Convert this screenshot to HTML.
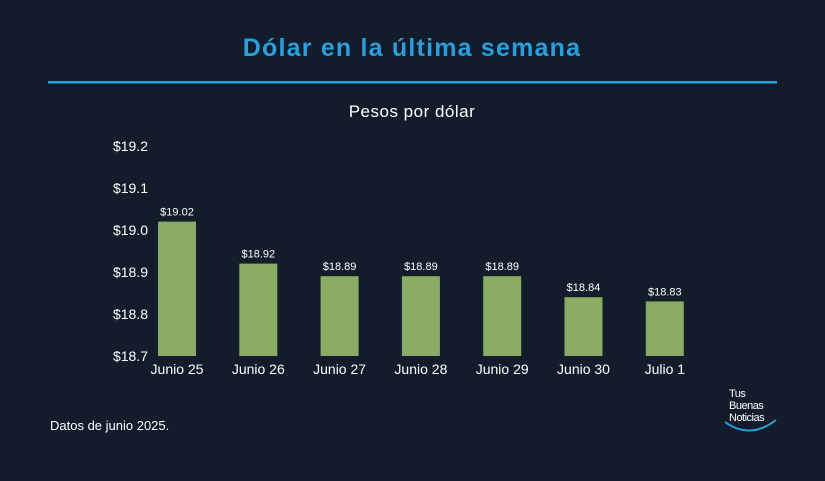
<!DOCTYPE html>
<html><head><meta charset="utf-8"><style>
body{margin:0;width:825px;height:481px;background:#121c2a;overflow:hidden;font-family:"Liberation Sans",sans-serif;color:#fff}
svg{display:block}
</style></head><body>
<svg width="825" height="481">
<text x="412" y="56" text-anchor="middle" font-size="25" font-weight="bold" letter-spacing="1.2" fill="#2b9fdc">Dólar en la última semana</text>
<rect x="48" y="81" width="729" height="2.5" fill="#2b9fdc"/>
<text x="412" y="117" text-anchor="middle" font-size="17" letter-spacing="0.5" fill="#fff">Pesos por dólar</text>
<g id="yaxis"></g>
<g id="bars"></g>
<text x="50" y="430" font-size="13" fill="#fff">Datos de junio 2025.</text>
<g>
<text x="729" y="397" font-size="11" fill="#fff" letter-spacing="-0.5">Tus</text>
<text x="729" y="409" font-size="11" fill="#fff" letter-spacing="-0.5">Buenas</text>
<text x="729" y="421" font-size="11" fill="#fff" letter-spacing="-0.5">Noticias</text>
<path d="M725 422 Q750 440 776 420" stroke="#2b9fdc" stroke-width="2" fill="none"/>
</g>
</svg>
<script>
const categories=["Junio 25","Junio 26","Junio 27","Junio 28","Junio 29","Junio 30","Julio 1"];
const values=[19.02,18.92,18.89,18.89,18.89,18.84,18.83];
const yTicks=[18.7,18.8,18.9,19.0,19.1,19.2];
const yTickLabels=["$18.7","$18.8","$18.9","$19.0","$19.1","$19.2"];
const NS="http://www.w3.org/2000/svg";
const y=v=>356-(v-18.7)*420;
const x=i=>158+i*81.3;
const bw=38;
function mk(t,a,p){const e=document.createElementNS(NS,t);for(const k in a)e.setAttribute(k,a[k]);p.appendChild(e);return e;}
const ya=document.getElementById('yaxis');
yTicks.forEach((t,i)=>{const e=mk('text',{x:148,y:y(t)+5,'text-anchor':'end','font-size':14,fill:'#fff'},ya);e.textContent=yTickLabels[i];

});
const bg=document.getElementById('bars');
values.forEach((v,i)=>{
const r=mk('rect',{x:x(i),y:y(v),width:bw,height:y(18.7)-y(v),fill:'#8aab63'},bg);


const l=mk('text',{x:x(i)+bw/2,y:y(v)-6,'text-anchor':'middle','font-size':11,fill:'#fff'},bg);l.textContent='$'+v.toFixed(2);


const c=mk('text',{x:x(i)+bw/2,y:374,'text-anchor':'middle','font-size':14,fill:'#fff'},bg);c.textContent=categories[i];


});
</script>
</body></html>
